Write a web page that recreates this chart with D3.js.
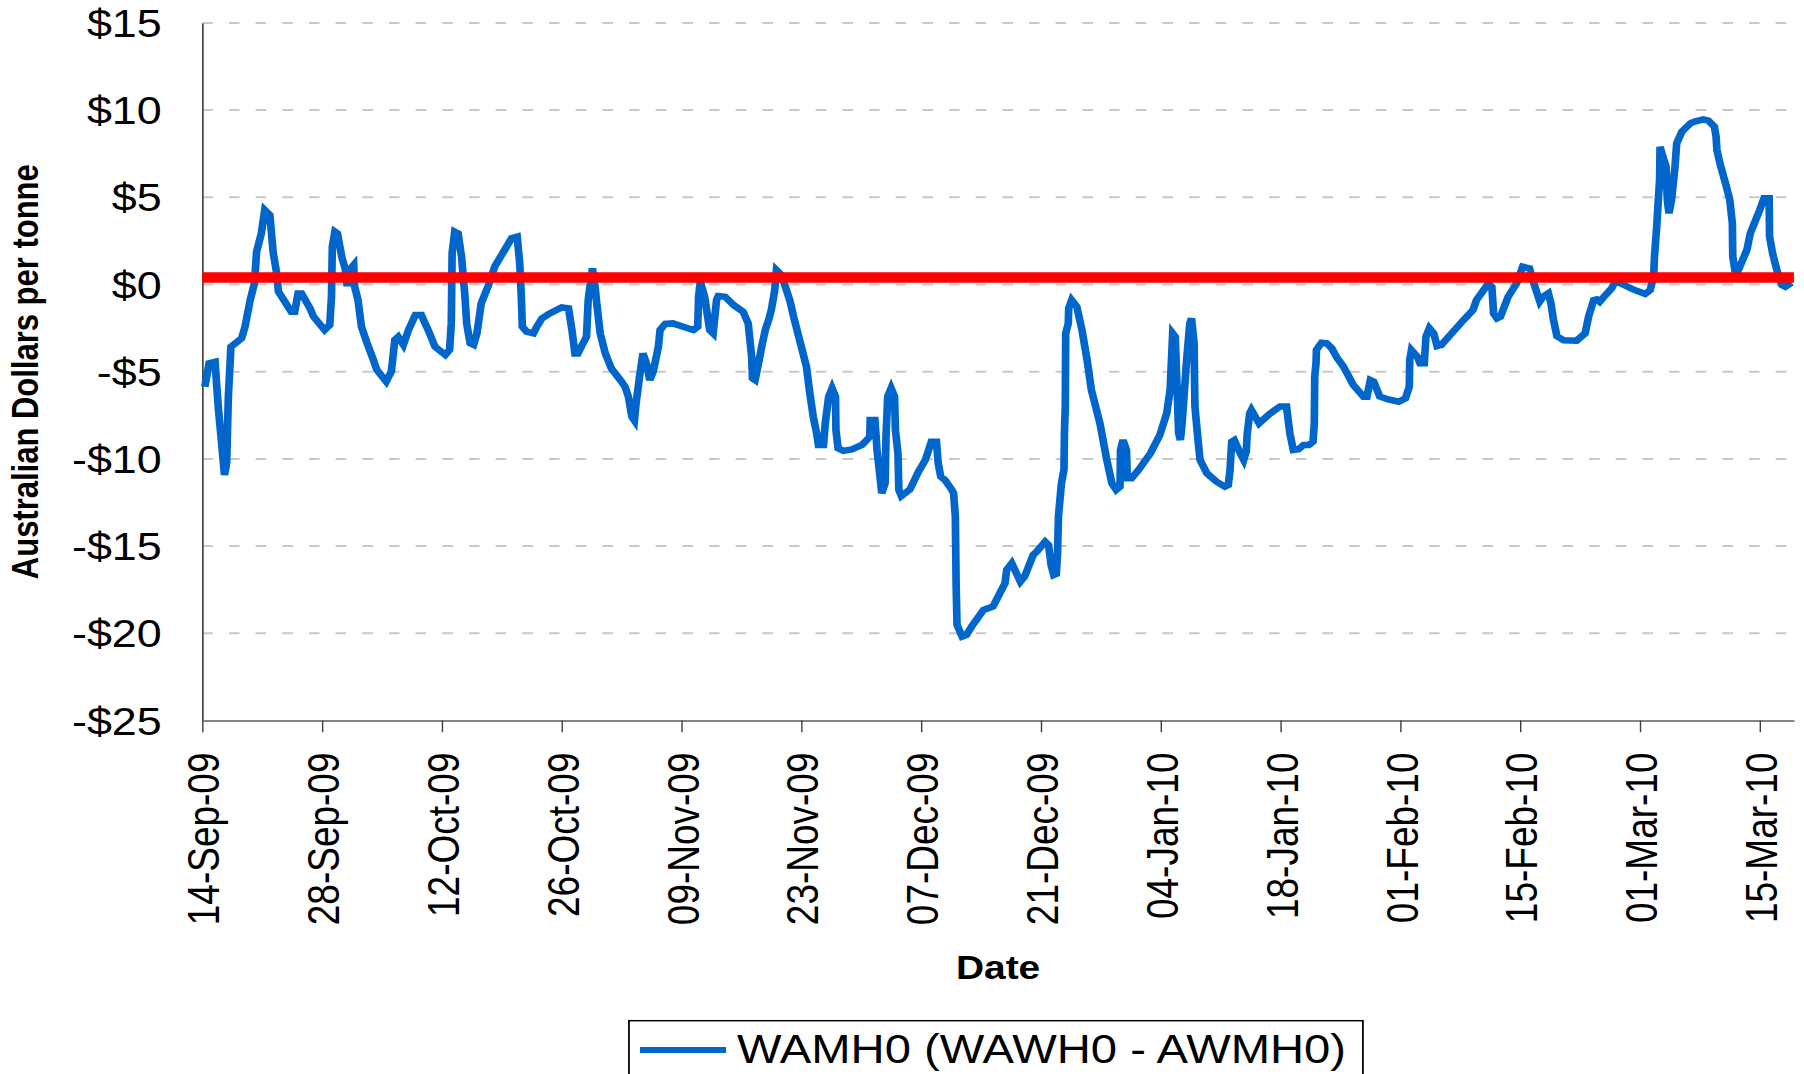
<!DOCTYPE html>
<html>
<head>
<meta charset="utf-8">
<script src="https://cdn.jsdelivr.net/npm/d3@7"></script>
<style>
  html, body { margin: 0; padding: 0; background: #fff; }
  svg { display: block; }
  text { font-family: "Liberation Sans", Arial, sans-serif; fill: #000; }
</style>
</head>
<body>
<div id="chart"></div>
<script>
// days after 14-Sep-2009 for each reading of the spread
var days = [
  0.3, 0.8, 1.5, 1.7, 1.9, 2.3, 2.6, 2.85, 3.05, 3.35, 4.6, 5.0, 5.6, 6.1, 6.35, 6.9, 7.3, 7.9, 8.3, 8.7,
  8.9, 10.4, 10.8, 11.2, 11.6, 12.6, 13.0, 14.3, 14.9, 15.1, 15.2, 15.5, 15.8, 16.3, 16.7, 16.9, 17.1, 17.2, 17.7, 17.8,
  18.2, 18.6, 19.2, 20.0, 20.4, 21.5, 22.1, 22.5, 22.9, 23.5, 24.1, 24.9, 25.6, 26.4, 27.2, 28.4, 28.9, 29.1, 29.2, 29.5,
  29.9, 30.3, 30.7, 30.9, 31.3, 31.7, 32.1, 32.6, 33.4, 34.2, 36.15, 36.8, 37.1, 37.3, 37.4, 37.9, 38.7, 39.1, 39.7, 40.6,
  42.0, 42.8, 43.2, 43.55, 43.9, 44.5, 44.9, 45.1, 45.6, 45.9, 46.1, 46.5, 47.1, 47.8, 49.0, 49.4, 49.8, 50.2, 50.5, 50.7,
  51.1, 51.5, 51.9, 52.3, 52.7, 53.3, 53.5, 54.1, 55.0, 56.2, 57.4, 57.9, 58.0, 58.2, 58.7, 59.3, 59.7, 60.1, 60.3, 61.1,
  62.1, 63.2, 63.8, 64.2, 64.3, 64.6, 65.0, 65.4, 65.8, 66.2, 66.5, 66.9, 67.1, 67.7, 68.7, 69.1, 69.9, 70.6, 71.0, 71.4,
  71.8, 72.0, 72.6, 72.8, 73.2, 73.6, 74.0, 74.05, 74.3, 74.9, 75.9, 77.1, 77.6, 78.0, 78.05, 78.6, 78.75, 78.85, 79.2, 79.4,
  79.8, 79.9, 80.1, 80.5, 80.9, 81.0, 81.3, 81.4, 81.7, 82.7, 83.7, 84.5, 85.2, 85.8, 86.0, 86.3, 86.8, 87.6, 87.8, 88.0,
  88.1, 88.2, 88.8, 89.3, 89.9, 91.3, 92.4, 93.0, 93.8, 94.0, 94.6, 95.6, 96.1, 97.1, 97.5, 98.5, 98.9, 99.2, 99.5, 99.8,
  99.95, 100.05, 100.4, 100.7, 100.75, 100.85, 100.9, 101.2, 101.25, 101.6, 102.2, 102.8, 103.4, 103.9, 104.9, 105.7, 106.3, 106.8, 107.25, 107.3,
  107.6, 108.0, 108.1, 108.6, 109.4, 110.8, 111.9, 112.7, 113.1, 113.4, 113.7, 114.1, 114.3, 114.5, 115.0, 115.4, 115.6, 115.9, 116.0, 116.4,
  116.6, 117.4, 118.5, 119.5, 119.9, 120.1, 120.3, 120.6, 121.3, 121.7, 122.0, 122.1, 122.4, 122.6, 123.5, 124.8, 125.95, 126.7, 127.1, 127.5,
  128.1, 128.7, 129.3, 129.8, 129.95, 130.0, 130.15, 130.2, 130.8, 131.4, 132.0, 132.6, 133.35, 134.5, 135.7, 136.1, 136.5, 136.9, 137.6, 138.6,
  139.8, 140.6, 141.05, 141.1, 141.3, 142.0, 142.3, 142.8, 143.0, 143.4, 143.9, 144.3, 144.8, 146.0, 147.4, 148.5, 148.9, 150.3, 150.7, 150.9,
  151.3, 151.7, 152.6, 153.6, 154.3, 155.1, 155.6, 156.3, 156.7, 157.3, 157.6, 157.9, 158.3, 159.1, 160.6, 161.6, 162.0, 162.6, 162.95, 163.3,
  164.1, 164.7, 165.1, 165.7, 167.2, 168.6, 169.2, 169.6, 169.7, 169.96, 170.15, 170.3, 170.35, 170.7, 171.05, 171.2, 171.4, 171.7, 172.1, 172.3,
  172.9, 173.9, 174.4, 175.4, 176.0, 176.7, 176.9, 177.0, 177.4, 178.0, 178.5, 178.8, 178.85, 179.1, 179.5, 180.5, 180.9, 182.0, 182.5, 183.1,
  183.15, 183.5, 184.0, 184.6, 185.0, 185.7
];

// WAMH0 spread, A$ per tonne
var spread = [
  -5.86, -4.52, -4.43, -5.86, -7.2, -9.3, -10.92, -10.25, -6.43, -3.57, -3.09, -2.42, -0.89, 0.07, 1.88, 2.93, 4.27, 3.98, 1.79, 0.64,
  -0.41, -1.56, -1.56, -0.51, -0.51, -1.37, -1.84, -2.61, -2.32, -0.70, 2.17, 3.03, 2.93, 1.59, 0.92, 0.07, 0.07, 0.83, 1.12, -0.1,
  -0.89, -2.42, -3.28, -4.33, -4.9, -5.57, -4.99, -3.18, -3.0, -3.46, -2.61, -1.75, -1.75, -2.61, -3.57, -4.04, -3.75, -2.23, 1.79, 3.03,
  2.93, 1.59, -0.70, -2.23, -3.37, -3.46, -2.8, -1.08, -0.1, 1.05, 2.65, 2.74, 1.21, -0.89, -2.42, -2.71, -2.8, -2.42, -1.94, -1.66,
  -1.31, -1.37, -2.61, -3.95, -3.95, -3.37, -3.0, -0.89, 0.93, -0.1, -1.08, -2.8, -3.95, -4.81, -5.57, -5.86, -6.43, -7.58, -7.8, -6.8,
  -5.29, -3.95, -4.52, -5.48, -4.99, -3.57, -2.61, -2.26, -2.23, -2.42, -2.61, -2.42, -0.70, 0.16, -0.70, -2.61, -2.8, -0.89, -0.66, -0.70,
  -1.18, -1.56, -2.23, -4.14, -5.38, -5.48, -4.52, -3.5, -2.6, -2.0, -1.46, -0.32, 0.83, 0.54, -0.98, -1.84, -3.37, -4.71, -6.24, -7.58,
  -8.54, -9.2, -9.2, -7.96, -6.43, -5.95, -6.43, -8.35, -9.39, -9.54, -9.45, -9.2, -8.95, -8.73, -7.77, -7.77, -8.73, -9.49, -11.02, -11.97,
  -11.4, -8.73, -6.43, -5.95, -6.43, -8.35, -9.68, -11.78, -12.13, -11.75, -10.73, -10.06, -9.01, -9.01, -10.25, -11.02, -11.21, -11.78, -11.97, -13.31,
  -17.33, -19.52, -20.19, -20.1, -19.62, -18.66, -18.47, -17.9, -17.14, -16.37, -15.99, -17.04, -16.75, -15.51, -15.32, -14.75, -14.94, -16.09, -16.66, -16.6,
  -15.4, -13.3, -11.4, -10.6, -8.5, -7.0, -2.8, -2.23, -1.37, -0.89, -1.27, -2.61, -4.33, -6.05, -7.96, -10.06, -11.4, -11.78, -11.59, -9.49,
  -8.92, -9.49, -11.11, -11.11, -10.64, -9.68, -8.63, -7.39, -6.05, -2.8, -2.99, -8.54, -8.92, -7.96, -4.52, -2.23, -1.94, -3.37, -7.0, -9.11,
  -10.06, -10.83, -11.3, -11.59, -11.5, -10.64, -9.01, -8.92, -9.68, -10.06, -9.58, -8.63, -7.39, -7.2, -7.96, -7.39, -7.0, -7.0, -8.54, -9.49,
  -9.45, -9.2, -9.2, -9.01, -7.96, -5.29, -4.52, -3.75, -3.34, -3.37, -3.66, -4.2, -4.7, -5.76, -6.43, -6.43, -5.48, -5.57, -6.43, -6.59,
  -6.72, -6.53, -5.86, -4.33, -3.76, -4.14, -4.52, -4.52, -2.99, -2.51, -2.8, -3.53, -3.47, -2.8, -2.03, -1.46, -0.89, 0.07, -0.13, -1.66,
  -1.94, -1.85, -0.70, 0.07, 1.02, 0.93, 0.07, -0.98, -0.7, -0.5, -1.08, -2.03, -2.96, -3.2, -3.22, -2.8, -1.85, -0.89, -0.85, -0.99,
  -0.54, -0.22, 0.16, 0.07, -0.28, -0.54, -0.32, 0.45, 1.6, 3.31, 4.85, 5.99, 7.9, 7.3, 6.77, 4.85, 4.08, 4.85, 6.77, 8.1,
  8.76, 9.24, 9.34, 9.47, 9.4, 9.05, 8.48, 7.71, 6.85, 5.8, 4.85, 3.51, 1.6, 0.83, 0.83, 1.98, 2.94, 4.27, 4.94, 4.94,
  2.75, 1.79, 0.83, -0.03, -0.13, 0.1
];

var averageLevel = 0.4;
var startDate = "2009-09-14";
var endDate = "2010-03-19";
var tickDates = ["2009-09-14", "2009-09-28", "2009-10-12", "2009-10-26", "2009-11-09", "2009-11-23", "2009-12-07",
                 "2009-12-21", "2010-01-04", "2010-01-18", "2010-02-01", "2010-02-15", "2010-03-01", "2010-03-15"];
var yTicks = [-25, -20, -15, -10, -5, 0, 5, 10, 15];
var seriesName = "WAMH0 (WAWH0 - AWMH0)";

var W = 1804, H = 1074;
// the original picture is stretched sideways, draw in narrower units and scale
var sx = 1.18;
var innerW = W / sx;

var margin = { top: 22.9, left: 171.4, right: innerW - 1520.3, bottom: H - 720.5 };
var width = innerW - margin.left - margin.right;
var height = H - margin.top - margin.bottom;

var parseDate = d3.utcParse("%Y-%m-%d");
var t0 = parseDate(startDate);
var data = days.map(function(d, i){
  return { date: new Date(t0.getTime() + d * 864e5), value: spread[i] };
});

var svg = d3.select("#chart").append("svg")
  .attr("width", W)
  .attr("height", H);

var root = svg.append("g").attr("transform", "scale(" + sx + ",1)");

var g = root.append("g")
  .attr("transform", "translate(" + margin.left + "," + margin.top + ")");

var x = d3.scaleUtc()
  .domain([t0, parseDate(endDate)])
  .range([0, width]);

var y = d3.scaleLinear()
  .domain([-25, 15])
  .range([height, 0]);

// gridlines
g.append("g")
  .attr("class", "grid")
  .selectAll("line")
  .data(yTicks.filter(function(d){ return d > -25; }))
  .enter().append("line")
  .attr("x1", 0)
  .attr("x2", width)
  .attr("y1", function(d){ return y(d); })
  .attr("y2", function(d){ return y(d); })
  .attr("stroke", "#c8c8c8")
  .attr("stroke-width", 2)
  .attr("stroke-dasharray", "9,13.6");

// y axis
var yAxis = g.append("g")
  .attr("class", "axis axis--y")
  .call(d3.axisLeft(y)
    .tickValues(yTicks)
    .tickSize(0)
    .tickPadding(34.4)
    .tickFormat(function(d){ return (d < 0 ? "-" : "") + "$" + Math.abs(d); }));
yAxis.select(".domain").attr("stroke", "#404040").attr("stroke-width", 1.4);
yAxis.selectAll("text")
  .style("font-size", "38px")
  .attr("dy", "0.36em");

// x axis
var xAxis = g.append("g")
  .attr("class", "axis axis--x")
  .attr("transform", "translate(0," + height + ")")
  .call(d3.axisBottom(x)
    .tickValues(tickDates.map(parseDate))
    .tickSize(11.7)
    .tickSizeOuter(0)
    .tickFormat(d3.utcFormat("%d-%b-%y")));
xAxis.select(".domain").attr("stroke", "#858585").attr("stroke-width", 2);
xAxis.selectAll(".tick line").attr("stroke", "#404040").attr("stroke-width", 1.2);
xAxis.selectAll("text")
  .style("font-size", "37px")
  .attr("text-anchor", "end")
  .attr("transform", "rotate(-90)")
  .attr("x", -32)
  .attr("y", 0)
  .attr("dy", "0.38em");

// series
var line = d3.line()
  .x(function(d){ return x(d.date); })
  .y(function(d){ return y(d.value); });

g.append("path")
  .datum(data)
  .attr("fill", "none")
  .attr("stroke", "#0066cc")
  .attr("stroke-width", 6.5)
  .attr("d", line);

g.append("path")
  .datum([t0, parseDate(endDate)])
  .attr("fill", "none")
  .attr("stroke", "#ff0000")
  .attr("stroke-width", 10.5)
  .attr("d", d3.line()
    .x(function(d){ return x(d); })
    .y(function(){ return y(averageLevel); }));

// labels
root.append("text")
  .attr("transform", "translate(32," + (margin.top + height / 2) + ")rotate(-90)")
  .attr("text-anchor", "middle")
  .style("font-size", "31px")
  .style("font-weight", "bold")
  .text("Australian Dollars per tonne");

root.append("text")
  .attr("x", margin.left + width / 2)
  .attr("y", 979)
  .attr("text-anchor", "middle")
  .style("font-size", "33px")
  .style("font-weight", "bold")
  .text("Date");

// legend
var legend = root.append("g").attr("class", "legend");
legend.append("rect")
  .attr("x", 533)
  .attr("y", 1020.7)
  .attr("width", 622)
  .attr("height", 100)
  .attr("fill", "#fff")
  .attr("stroke", "#000")
  .attr("stroke-width", 1.5);
legend.append("line")
  .attr("x1", 542.4)
  .attr("x2", 615.3)
  .attr("y1", 1050)
  .attr("y2", 1050)
  .attr("stroke", "#0066cc")
  .attr("stroke-width", 6);
legend.append("text")
  .attr("x", 624.6)
  .attr("y", 1063.3)
  .style("font-size", "40px")
  .text(seriesName);
</script>
</body>
</html>
